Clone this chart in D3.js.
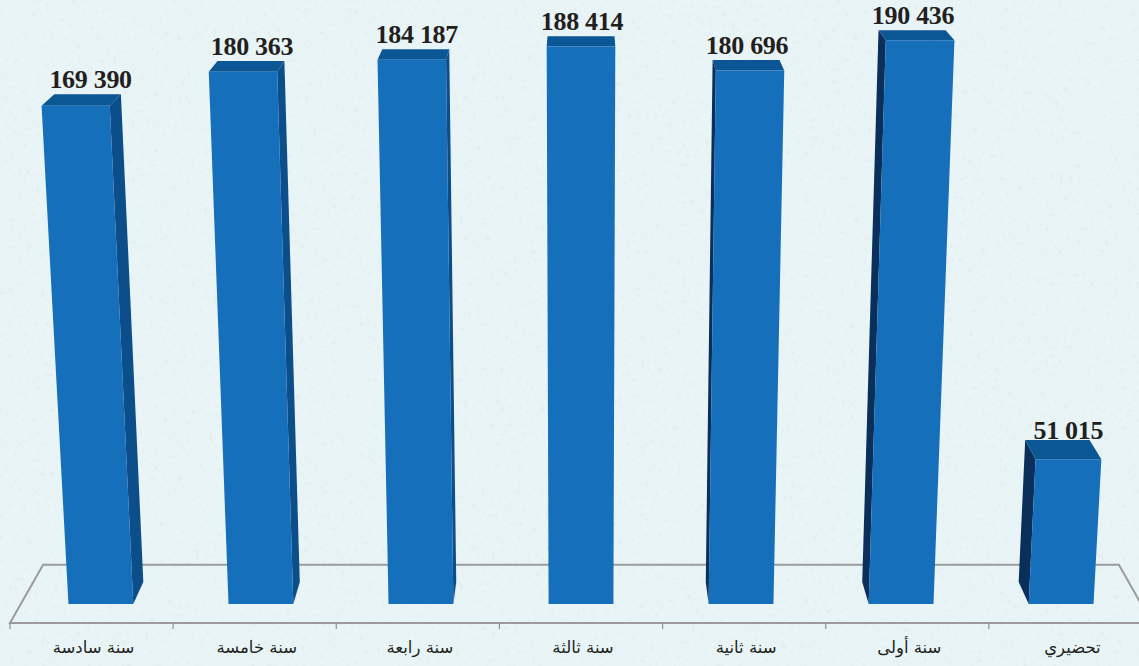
<!DOCTYPE html>
<html>
<head>
<meta charset="utf-8">
<script src="https://cdn.jsdelivr.net/npm/d3@7"></script>
<style>
  html, body { margin: 0; padding: 0; background: #e9f4f7; overflow: hidden; }
  .value { font-family: "Liberation Serif", serif; font-weight: bold; font-size: 26px; letter-spacing: -0.3px; fill: #231f20; text-anchor: middle; }
  .axis text { font-family: "DejaVu Sans", sans-serif; font-size: 16.5px; fill: #231f20; }
</style>
</head>
<body>
<div id="chart"></div>
<script>
var categories = ["سنة سادسة", "سنة خامسة", "سنة رابعة", "سنة ثالثة", "سنة ثانية", "سنة أولى", "تحضيري"];
var values = [169390, 180363, 184187, 188414, 180696, 190436, 51015];
var valueLabels = ["169 390", "180 363", "184 187", "188 414", "180 696", "190 436", "51 015"];

var width = 1139, height = 666;

// camera: everything goes through project(), floor lines meet at the horizon
var centerX = 581, horizonY = -380, floorDrop = 1003, verticalVanish = 10480;
var floorFront = 1, floorBack = 1 / 0.942, barFront = 1 / 0.981, barBack = 1 / 0.959;

var xScale = d3.scaleBand().domain(categories).range([-571, 571]).paddingInner(0.595).paddingOuter(0.2975);
var heightScale = d3.scaleLinear().domain([0, 200000]).range([0, 0.06]);

function project(x, value, depth) {
  var h = heightScale(value), w = depth - h;
  return [centerX + x / w, horizonY + (floorDrop - verticalVanish * h) / w];
}

var svg = d3.select("#chart").append("svg")
  .attr("width", width)
  .attr("height", height)
  .style("display", "block");

var defs = svg.append("defs");
var speckle = defs.append("filter").attr("id", "speckle").attr("x", 0).attr("y", 0).attr("width", "100%").attr("height", "100%");
speckle.append("feTurbulence").attr("type", "fractalNoise").attr("baseFrequency", 0.22).attr("numOctaves", 2).attr("seed", 7);
speckle.append("feColorMatrix").attr("type", "matrix")
  .attr("values", "0 0 0 0 0.70  0 0 0 0 0.78  0 0 0 0 0.80  3 0 0 0 -1.75");
speckle.append("feGaussianBlur").attr("stdDeviation", 0.7);

svg.append("rect").attr("width", width).attr("height", height).attr("fill", "#e9f4f7");
svg.append("rect").attr("width", width).attr("height", height).attr("filter", "url(#speckle)").attr("opacity", 0.6);

// floor
var floorLine = d3.line();
var fl = xScale.range()[0], fr = xScale.range()[1];
svg.append("path")
  .attr("d", floorLine([project(fl, 0, floorFront), project(fl, 0, floorBack), project(fr, 0, floorBack), project(fr, 0, floorFront)]) + "Z")
  .attr("fill", "none")
  .attr("stroke", "#9a9c9c")
  .attr("stroke-width", 2);

// category axis along the front edge of the floor
var axisScale = d3.scaleBand().domain(categories).range([centerX + fl, centerX + fr]);
var axis = svg.append("g")
  .attr("class", "axis")
  .attr("transform", "translate(2," + project(0, 0, floorFront)[1] + ")")
  .call(d3.axisBottom(axisScale).tickSize(0).tickPadding(18));
axis.select(".domain").remove();
axis.selectAll("text").attr("direction", "rtl");

svg.selectAll(".edge")
  .data(d3.range(categories.length + 1))
  .enter().append("line")
  .attr("class", "edge")
  .attr("x1", function(i) { return centerX + fl + i * axisScale.step(); })
  .attr("x2", function(i) { return centerX + fl + i * axisScale.step(); })
  .attr("y1", project(0, 0, floorFront)[1])
  .attr("y2", project(0, 0, floorFront)[1] + 6)
  .attr("stroke", "#8f9191")
  .attr("stroke-width", 1.2);

// bars
var bar = svg.selectAll(".bar")
  .data(categories)
  .enter().append("g")
  .attr("class", "bar");

function face(points) { return floorLine(points) + "Z"; }

bar.each(function(cat, i) {
  var g = d3.select(this), v = values[i];
  var x0 = xScale(cat), x1 = x0 + xScale.bandwidth();
  var sideX = i < 3 ? x1 : x0;
  if (i !== 3) {
    g.append("path")
      .attr("d", face([project(sideX, 0, barFront), project(sideX, v, barFront), project(sideX, v, barBack), project(sideX, 0, barBack)]))
      .attr("fill", i < 3 ? "#0c4e8a" : "#0b2f5b");
  }
  g.append("path")
    .attr("d", face([project(x0, v, barFront), project(x1, v, barFront), project(x1, v, barBack), project(x0, v, barBack)]))
    .attr("fill", "#0b5694");
  g.append("path")
    .attr("d", face([project(x0, 0, barFront), project(x1, 0, barFront), project(x1, v, barFront), project(x0, v, barFront)]))
    .attr("fill", "#166fba");
});

// labels sit on the back edge of the top, last one was moved right in the source
bar.append("text")
  .attr("class", "value")
  .attr("x", function(cat, i) {
    return project(xScale(cat) + xScale.bandwidth() / 2, values[i], barBack)[0] + (i === 6 ? 11 : i === 0 ? 3 : 1);
  })
  .attr("y", function(cat, i) {
    return project(0, values[i], barBack)[1] - (i === 6 ? 1 : 6);
  })
  .text(function(cat, i) { return valueLabels[i]; });
</script>
</body>
</html>
